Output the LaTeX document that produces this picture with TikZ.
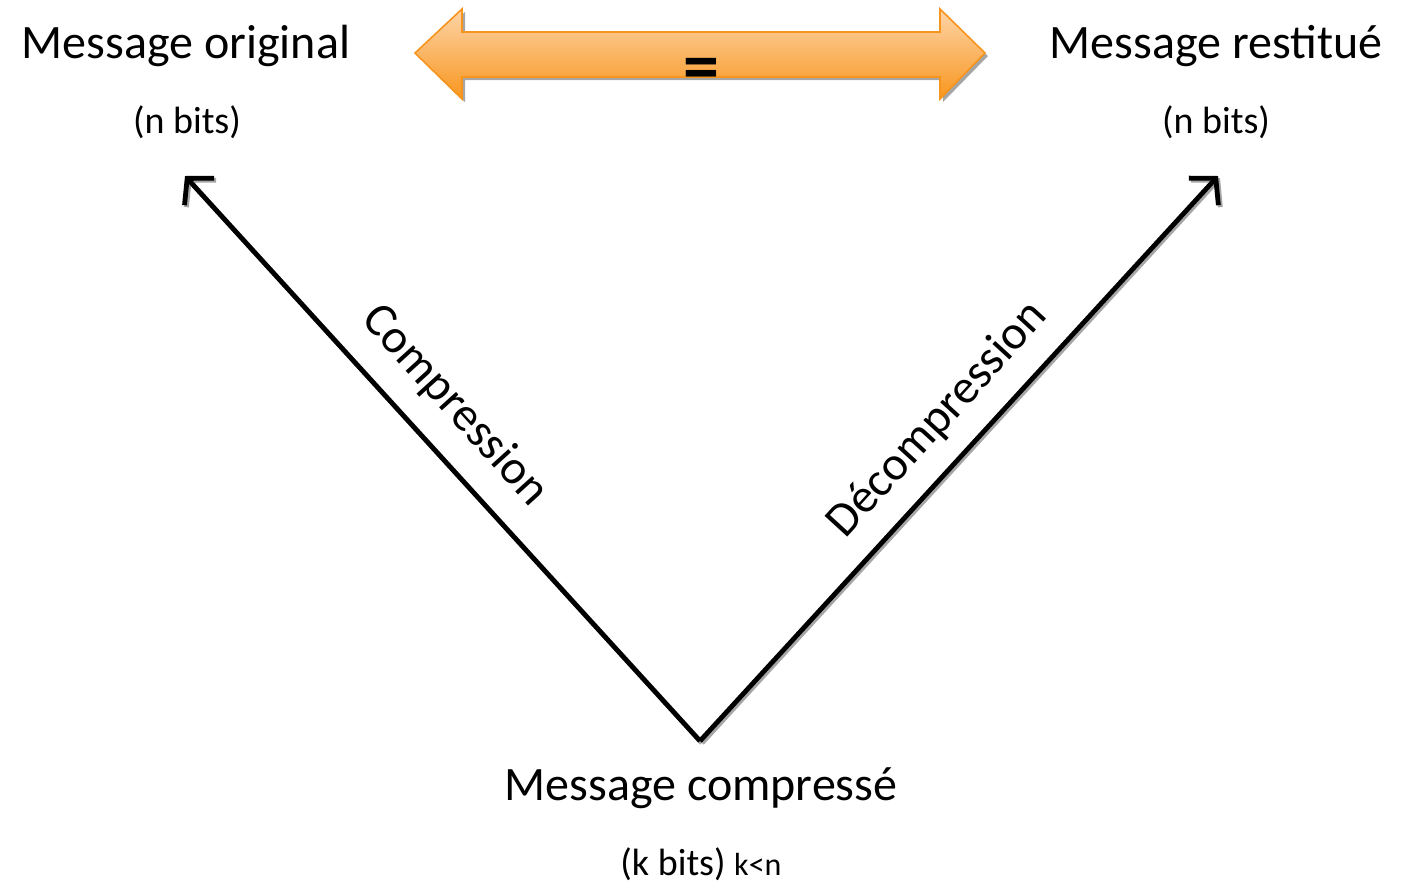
\documentclass[tikz,border=0pt]{standalone}
\usepackage{fontspec}
\setmainfont{Carlito}
\usetikzlibrary{arrows.meta}
\definecolor{ArrowTop}{HTML}{FDD4A8}
\definecolor{ArrowBot}{HTML}{F8961E}
\definecolor{ArrowLine}{HTML}{F7941D}
\definecolor{ShadowGray}{HTML}{A6A6A6}

\begin{document}
\begin{tikzpicture}[
    x=0.5pt, y=-0.5pt,
    msg/.style={font=\fontsize{24}{28}\selectfont, anchor=base, inner sep=0pt},
    bigmsg/.style={font=\fontsize{24}{29}\selectfont, anchor=base, inner sep=0pt},
    bits/.style={font=\fontsize{19}{23}\selectfont, anchor=base, inner sep=0pt},
    lbl/.style={font=\fontsize{24}{28}\selectfont, inner sep=0pt},
    conn/.style={line width=2.4pt, -{Straight Barb[length=9pt, width=20pt]}},
    shd/.style={ShadowGray, transform canvas={shift={(1pt,-1pt)}}}
]
\useasboundingbox (0,0) rectangle (1405,885);

% Messages
\node[msg] (orig) at (186,58) {Message original};
\node[bits] (origbits) at (187,133) {(n bits)};
\node[msg] (rest) at (1216,58) {Message restitué};
\node[bits] (restbits) at (1216,133) {(n bits)};
\node[bigmsg] (comp) at (701,800) {Message compressé};
\node[bits] (compbits) at (701,875) {(k bits) {\fontsize{16}{18}\selectfont k<n}};

% Ends of the V
\coordinate (tipL) at (185,176);
\coordinate (vtx) at (700,741);
\coordinate (tipR) at (1218,176);

% Shadows, then lines
\draw[conn, shd] (vtx) -- (tipL);
\draw[conn, shd] (vtx) -- (tipR);
\draw[conn] (vtx) -- (tipL);
\draw[conn] (vtx) -- (tipR);

\node[lbl, rotate=-47.8] (lcomp) at (455,406) {Compression};
\node[lbl, rotate=47.6] (ldecomp) at (938,420) {Décompression};

% Double arrow (=)
\fill[ShadowGray, transform canvas={shift={(1.5pt,-1.5pt)}}]
    (415,53) -- (462,9) -- (462,32) -- (940,32) -- (940,9) -- (985,53)
    -- (940,99) -- (940,77) -- (462,77) -- (462,99) -- cycle;
\draw[ArrowLine, line width=0.8pt, top color=ArrowTop, bottom color=ArrowBot]
    (415,53) -- (462,9) -- (462,32) -- (940,32) -- (940,9) -- (985,53)
    -- (940,99) -- (940,77) -- (462,77) -- (462,99) -- cycle;
\node[font=\bfseries\fontsize{36}{40}\selectfont, inner sep=0pt] (eq) at (701,74) {=};
\end{tikzpicture}
\end{document}
